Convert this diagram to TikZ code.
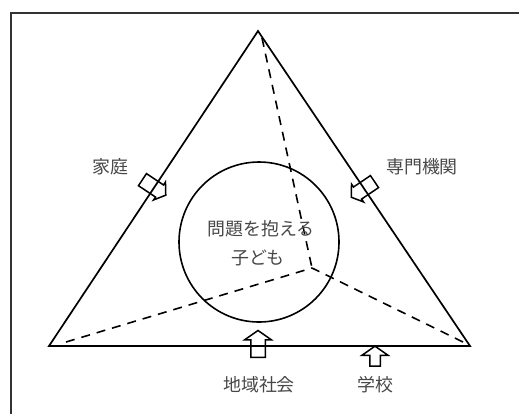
\documentclass[tikz,border=0pt]{standalone}
\usepackage{fontspec}
\newfontfamily\cjk{Noto Sans CJK JP}
\usetikzlibrary{shapes.arrows}
\begin{document}
\begin{tikzpicture}[x=1bp,y=-1bp,
  edge/.style={line width=1.7bp, line join=miter},
  frame/.style={line width=1.4bp, draw=black!80},
  dashline/.style={line width=1.6bp, dash pattern=on 9bp off 7bp},
  barrow/.style={single arrow, draw, line width=1.5bp, inner xsep=0pt,
    single arrow tip angle=110, single arrow head indent=0pt},
  lab/.style={font=\cjk\fontsize{18}{21}\selectfont, text=black!72, inner sep=0pt}]
\useasboundingbox (0,0) rectangle (519,414);
% frame (top and left sides visible)
\draw[frame] (519,13) -- (11,13) -- (11,414);
% triangle
\coordinate (A) at (258,31);
\coordinate (B) at (49,346);
\coordinate (C) at (470,346);
\draw[edge] (A) -- (B) -- (C) -- cycle;
% circle
\node[draw, circle, line width=1.6bp, minimum size=160bp, inner sep=0pt] (child) at (259,242) {};
% dashed lines to the meeting point
\coordinate (M) at (312,268);
\coordinate (dA) at (262,38);
\coordinate (dB) at (66,342);
\coordinate (dC) at (463,342);
\draw[dashline] (dA) -- (M);
\draw[dashline] (dB) -- (M);
\draw[dashline] (dC) -- (M);
% block arrows
\node[barrow, inner ysep=6.5bp, single arrow head extend=3.5bp, minimum height=28bp, rotate=-33.6] (arF) at (152,186) {};
\node[barrow, inner ysep=6.5bp, single arrow head extend=3.5bp, minimum height=28bp, rotate=-146] (arP) at (365,188) {};
\node[barrow, inner ysep=6.5bp, single arrow head extend=6bp, minimum height=27bp, rotate=90] (arC) at (258,346.5) {};
\node[barrow, inner ysep=4.5bp, single arrow head extend=8bp, minimum height=20bp, rotate=90] (arS) at (375,358) {};
% labels
\node[lab] (family) at (110,167) {家庭};
\node[lab] (expert) at (422,167) {専門機関};
\node[lab] (t1) at (261,229) {問題を抱える};
\node[lab] (t2) at (258,258) {子ども};
\node[lab] (comm) at (259,385) {地域社会};
\node[lab] (school) at (375,385) {学校};
\end{tikzpicture}
\end{document}
